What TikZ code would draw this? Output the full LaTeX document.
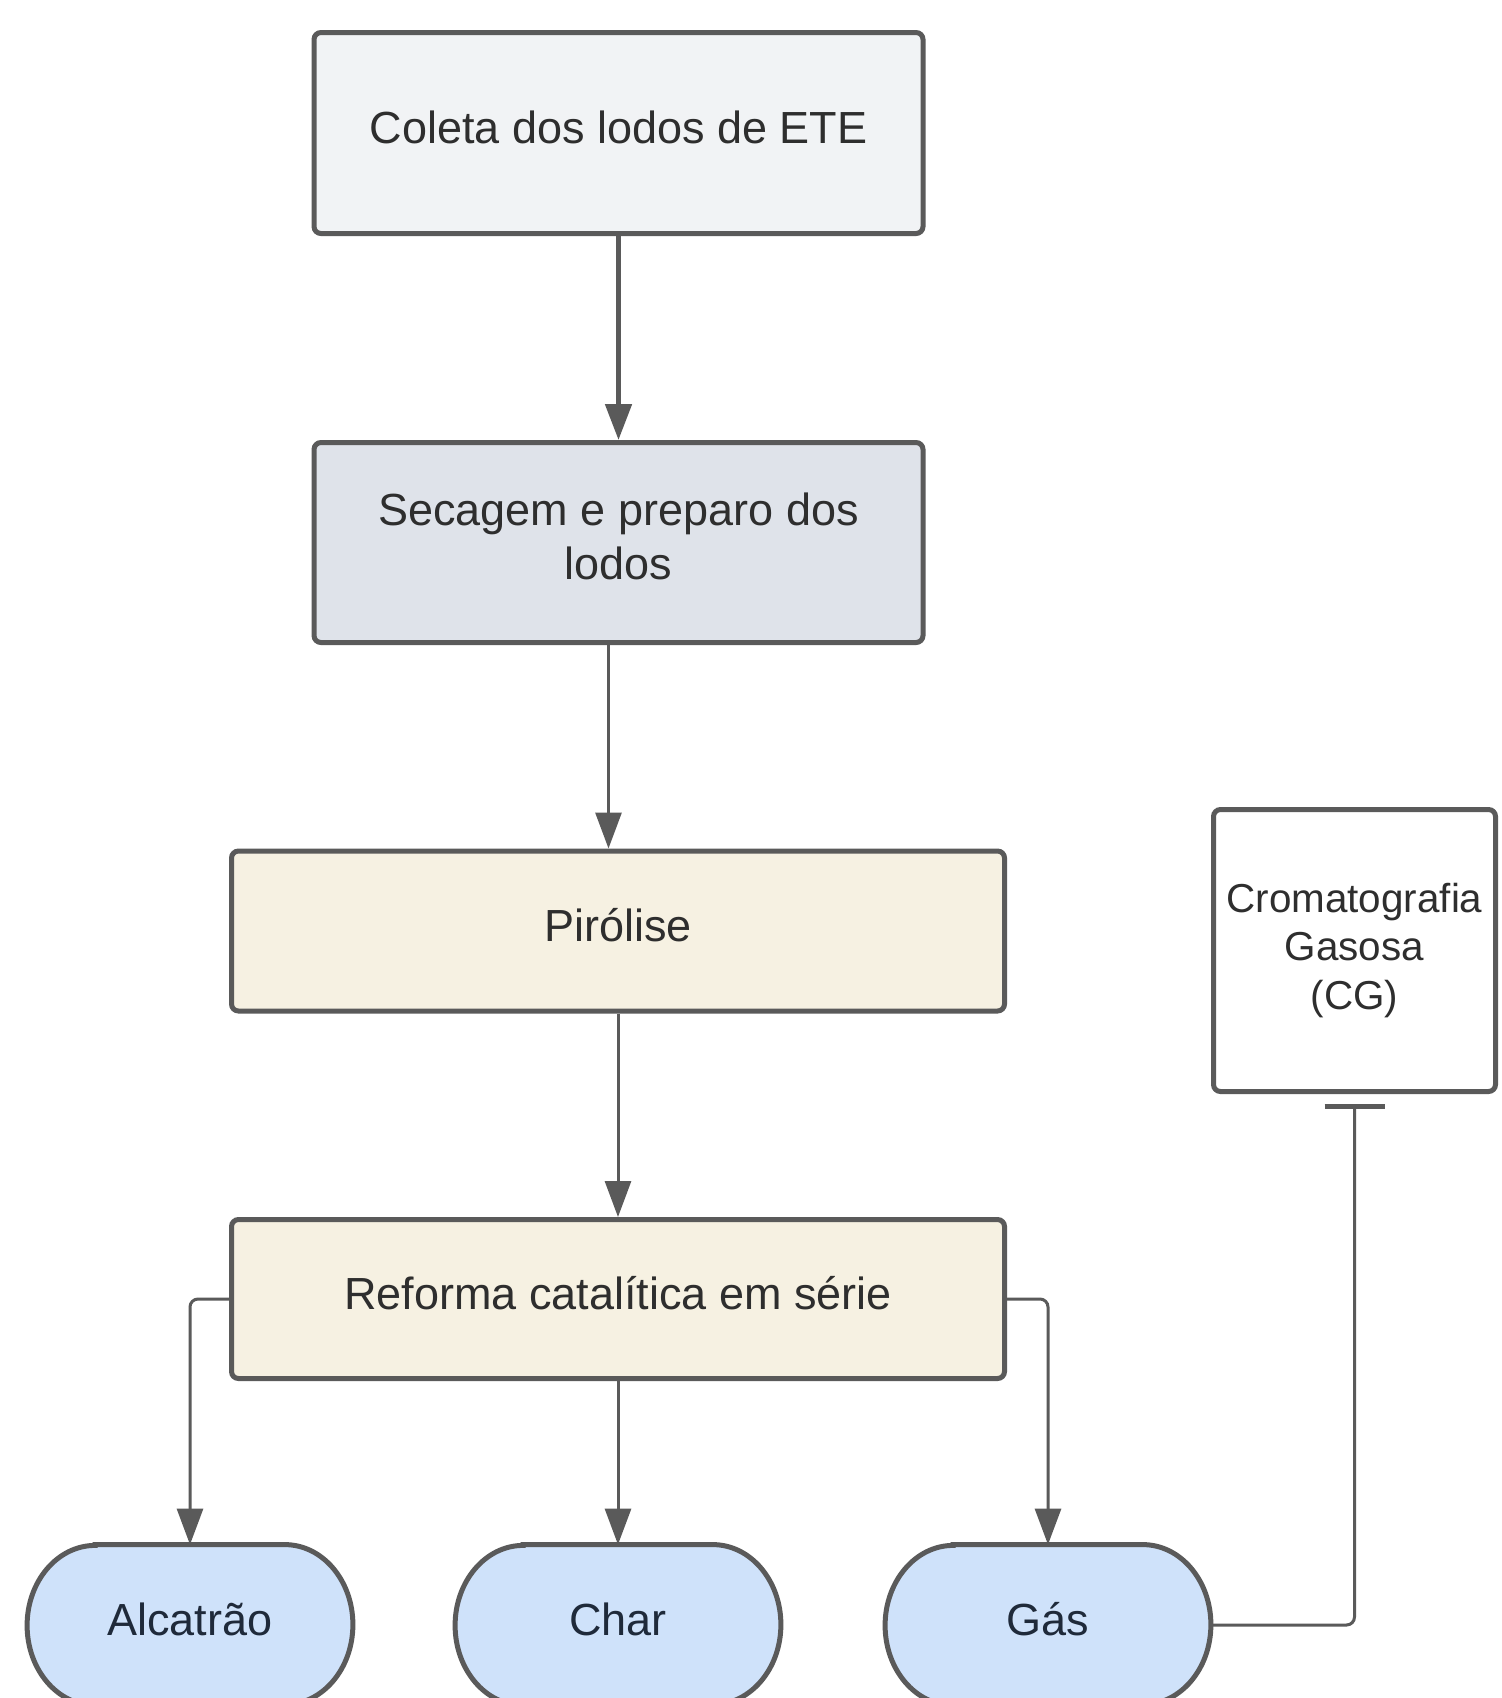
\documentclass[tikz,border=0pt]{standalone}
\usepackage{fontspec}
\setmainfont{Liberation Sans}
\usetikzlibrary{arrows.meta,backgrounds}
\definecolor{edgec}{HTML}{5A5A5A}
\definecolor{fillA}{HTML}{F1F3F5}
\definecolor{fillB}{HTML}{DFE3EA}
\definecolor{fillC}{HTML}{F6F1E2}
\definecolor{fillD}{HTML}{CFE2FA}
\definecolor{txtA}{HTML}{2E2E2E}
\definecolor{txtB}{HTML}{1F2A3A}
\begin{document}
\begin{tikzpicture}[x=0.5pt,y=-0.5pt,
  box/.style={draw=edgec, line width=2.5pt, rounded corners=3.5pt, text=txtA,
    font=\fontsize{22.5pt}{27pt}\selectfont, align=center, inner sep=0pt},
  oneline/.style={text height=16pt, text depth=6pt},
  ovalnode/.style={inner sep=0pt, minimum width=162.5pt, minimum height=80pt,
    text=txtB, font=\fontsize{22.5pt}{27pt}\selectfont, text height=16pt, text depth=6pt},
  ovalline/.style={draw=edgec, fill=fillD, line width=2.5pt},
  conn/.style={draw=edgec, line width=1.5pt, rounded corners=4pt,
    -{Triangle[length=18pt,width=13pt]}},
  thickconn/.style={conn, line width=2.5pt},
  plainconn/.style={draw=edgec, line width=1.5pt, rounded corners=4pt}
]
\useasboundingbox (0,0) rectangle (1501,1698);
\clip (0,0) rectangle (1501,1698);

\node[box, oneline, fill=fillA, minimum width=304.5pt, minimum height=100.5pt] (b1) at (618.5,133) {Coleta dos lodos de ETE};
\node[box, fill=fillB, minimum width=304.5pt, minimum height=100pt] (b2) at (618.5,542.5) {Secagem e preparo dos\\lodos\rule[-6pt]{0pt}{0pt}};
\node[box, oneline, fill=fillC, minimum width=386.5pt, minimum height=80pt] (b3) at (618,931) {Pirólise};
\node[box, oneline, fill=fillC, minimum width=386.5pt, minimum height=79.5pt] (b4) at (618,1299) {Reforma catalítica em série};
\node[box, fill=white, minimum width=141pt, minimum height=141pt,
  font=\fontsize{20.2pt}{24.25pt}\selectfont] (cg) at (1354.5,950.5) {Cromatografia\\Gasosa\\(CG)};

\node[ovalnode] (al) at (190,1625) {Alcatrão};
\node[ovalnode] (ch) at (618,1625) {Char};
\node[ovalnode] (ga) at (1048,1625) {Gás};

\begin{scope}[on background layer]
\fill[white] (0,0) rectangle (1501,1698);
\foreach \n in {al,ch,ga}{
  \draw[ovalline] ([xshift=34pt]\n.north west) -- ([xshift=-34pt]\n.north east)
    arc[start angle=90, end angle=-90, x radius=34pt, y radius=40pt]
    -- ([xshift=34pt]\n.south west)
    arc[start angle=270, end angle=90, x radius=34pt, y radius=40pt] -- cycle;
}
\end{scope}

\draw[thickconn] (b1.south) -- (b2.north);
\draw[conn] ([xshift=-5pt]b2.south) -- ([xshift=-5pt]b2.south |- b3.north);
\draw[conn] (b3.south) -- (b4.north);
\draw[conn] (b4.west) -| (al.north);
\draw[conn] (b4.south) -- (ch.north);
\draw[conn] (b4.east) -| (ga.north);
\draw[plainconn, -{Bar[width=30pt, line width=2.5pt]}] (ga.east) -| ([yshift=-5pt]cg.south);
\end{tikzpicture}
\end{document}
